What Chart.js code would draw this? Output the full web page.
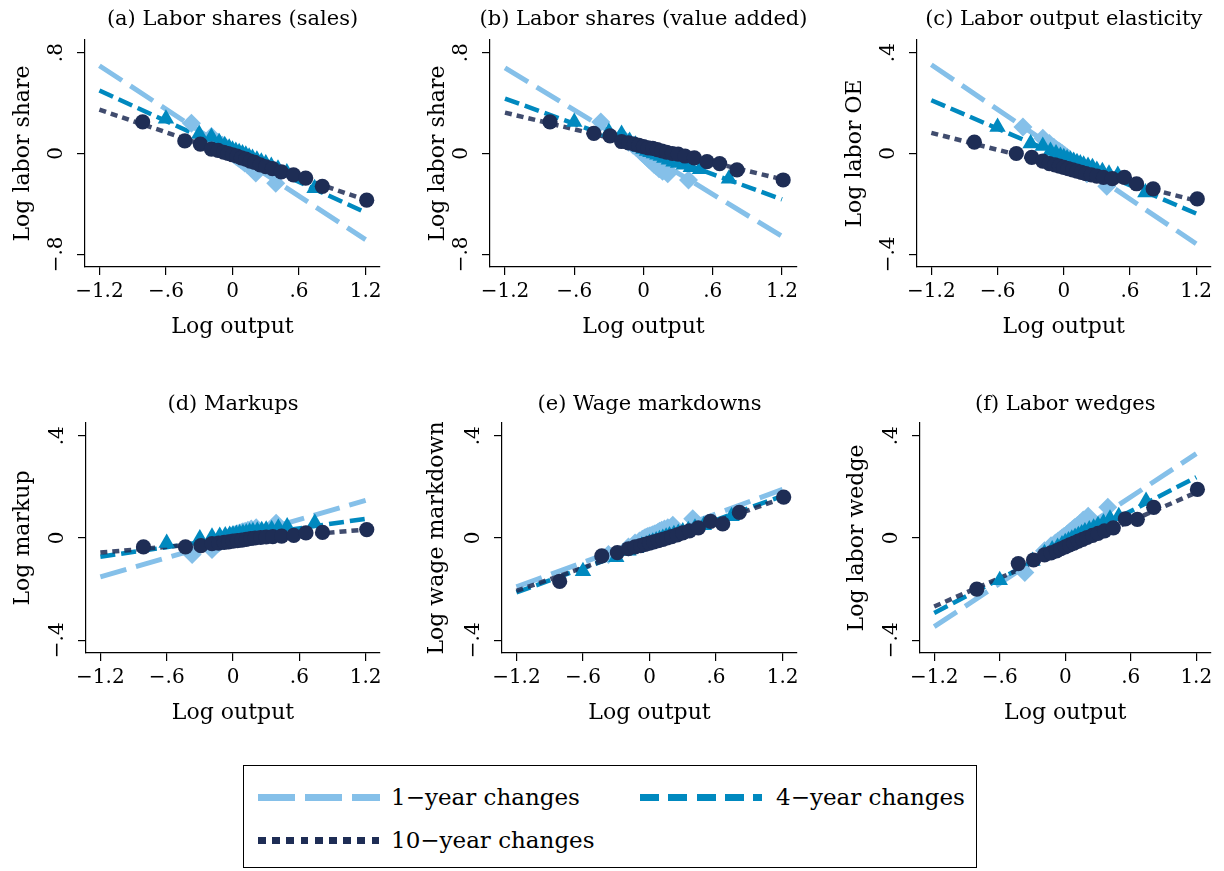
<!DOCTYPE html>
<html>
<head>
<meta charset="utf-8">
<script src="https://cdn.jsdelivr.net/npm/chart.js@4.4.1/dist/chart.umd.min.js"></script>
<style>
html, body { margin: 0; padding: 0; background: #fff; overflow: hidden; }
body { width: 1224px; height: 871px; position: relative; font-family: "DejaVu Serif", serif; }
canvas { position: absolute; }
#legend { position: absolute; left: 243px; top: 765px; width: 734px; height: 103px; box-sizing: border-box; border: 1.5px solid #000; }
.sample { position: absolute; height: 7px; }
.lab { position: absolute; font-size: 23px; line-height: 30px; color: #000; white-space: nowrap; }
</style>
</head>
<body>
<canvas id="pa"></canvas>
<canvas id="pb"></canvas>
<canvas id="pc"></canvas>
<canvas id="pd"></canvas>
<canvas id="pe"></canvas>
<canvas id="pf"></canvas>
<div id="legend">
  <div class="sample" style="left:14px;top:28px;width:122px;background:repeating-linear-gradient(90deg,#85C0E9 0 37px,transparent 37px 47px);"></div>
  <div class="lab" style="left:147px;top:16px;">1−year changes</div>
  <div class="sample" style="left:396px;top:28px;width:122px;background:repeating-linear-gradient(90deg,#0089BF 0 19px,transparent 19px 28.3px);"></div>
  <div class="lab" style="left:532px;top:16px;">4−year changes</div>
  <div class="sample" style="left:14px;top:71px;width:122px;background:repeating-linear-gradient(90deg,#1E2D55 0 7.7px,transparent 7.7px 14.2px);"></div>
  <div class="lab" style="left:147px;top:59px;">10−year changes</div>
</div>
<script>
// ---------- data ----------
const xTicks = [-1.2, -0.6, 0, 0.6, 1.2];
const yTicksWide = [-0.8, 0, 0.8];
const yTicksNarrow = [-0.4, 0, 0.4];
const fitX = [-1.2, 1.2];

// bin means of log output (x) per horizon
const x1y = [-0.37, -0.19, -0.13, -0.09, -0.065, -0.045, -0.03, -0.015, 0.0, 0.015, 0.03, 0.045, 0.06, 0.075, 0.09, 0.11, 0.135, 0.165, 0.21, 0.39];
const x4y = [-0.60, -0.30, -0.19, -0.12, -0.07, -0.03, 0.0, 0.03, 0.06, 0.09, 0.12, 0.15, 0.18, 0.22, 0.26, 0.30, 0.35, 0.41, 0.49, 0.74];
const x10y = [-0.81, -0.43, -0.29, -0.19, -0.13, -0.08, -0.04, 0.0, 0.04, 0.08, 0.12, 0.16, 0.20, 0.25, 0.30, 0.36, 0.44, 0.55, 0.66, 0.81, 1.21];

// (a) Labor shares (sales)
const a1 = [0.24, 0.135, 0.09, 0.065, 0.05, 0.035, 0.025, 0.01, 0.0, -0.01, -0.02, -0.03, -0.04, -0.05, -0.06, -0.075, -0.09, -0.11, -0.155, -0.235];
const a4 = [0.275, 0.155, 0.13, 0.09, 0.065, 0.045, 0.03, 0.02, 0.01, 0.0, -0.01, -0.025, -0.035, -0.05, -0.065, -0.08, -0.10, -0.12, -0.15, -0.275];
const a10 = [0.25, 0.10, 0.075, 0.035, 0.025, 0.01, 0.0, -0.01, -0.02, -0.035, -0.045, -0.06, -0.07, -0.09, -0.105, -0.12, -0.145, -0.17, -0.195, -0.26, -0.37];
const a1Fit = [0.696, -0.683];
const a4Fit = [0.499, -0.468];
const a10Fit = [0.347, -0.368];

// (b) Labor shares (value added)
const b1 = [0.25, 0.13, 0.09, 0.065, 0.05, 0.035, 0.02, 0.005, -0.005, -0.02, -0.03, -0.045, -0.055, -0.07, -0.085, -0.10, -0.12, -0.14, -0.16, -0.21];
const b4 = [0.25, 0.17, 0.155, 0.10, 0.07, 0.05, 0.035, 0.02, 0.01, 0.0, -0.01, -0.02, -0.035, -0.05, -0.065, -0.075, -0.09, -0.11, -0.125, -0.20];
const b10 = [0.25, 0.16, 0.14, 0.095, 0.085, 0.075, 0.065, 0.055, 0.045, 0.04, 0.03, 0.02, 0.01, 0.0, -0.005, -0.02, -0.035, -0.065, -0.08, -0.13, -0.21];
const b1Fit = [0.679, -0.657];
const b4Fit = [0.436, -0.364];
const b10Fit = [0.324, -0.204];

// (c) Labor output elasticity
const c1 = [0.105, 0.06, 0.04, 0.025, 0.015, 0.01, 0.005, 0.0, -0.005, -0.01, -0.015, -0.02, -0.03, -0.035, -0.04, -0.045, -0.055, -0.065, -0.08, -0.13];
const c4 = [0.105, 0.04, 0.03, 0.01, 0.0, -0.01, -0.015, -0.02, -0.025, -0.03, -0.035, -0.04, -0.045, -0.05, -0.055, -0.065, -0.07, -0.08, -0.085, -0.155];
const c10 = [0.045, 0.0, -0.015, -0.03, -0.04, -0.045, -0.05, -0.055, -0.06, -0.065, -0.07, -0.075, -0.08, -0.085, -0.09, -0.095, -0.10, -0.095, -0.12, -0.14, -0.18];
const c1Fit = [0.352, -0.358];
const c4Fit = [0.211, -0.238];
const c10Fit = [0.082, -0.187];

// (d) Markups
const d1 = [-0.065, -0.045, -0.02, -0.01, -0.005, 0.0, 0.005, 0.008, 0.01, 0.012, 0.015, 0.017, 0.02, 0.022, 0.024, 0.026, 0.03, 0.035, 0.04, 0.058];
const d4 = [-0.02, -0.002, 0.005, 0.008, 0.01, 0.012, 0.014, 0.016, 0.018, 0.02, 0.022, 0.024, 0.026, 0.028, 0.03, 0.032, 0.034, 0.04, 0.045, 0.06];
const d10 = [-0.035, -0.035, -0.03, -0.022, -0.02, -0.017, -0.015, -0.012, -0.01, -0.008, -0.005, -0.002, 0.0, 0.002, 0.004, 0.005, 0.007, 0.01, 0.02, 0.022, 0.033];
const d1Fit = [-0.152, 0.147];
const d4Fit = [-0.073, 0.075];
const d10Fit = [-0.057, 0.033];

// (e) Wage markdowns
const e1 = [-0.065, -0.035, -0.02, -0.012, -0.005, 0.0, 0.003, 0.006, 0.008, 0.01, 0.013, 0.016, 0.018, 0.022, 0.026, 0.03, 0.035, 0.04, 0.05, 0.075];
const e4 = [-0.13, -0.075, -0.05, -0.04, -0.03, -0.025, -0.02, -0.015, -0.01, -0.005, 0.0, 0.005, 0.01, 0.015, 0.02, 0.025, 0.03, 0.04, 0.05, 0.085];
const e10 = [-0.17, -0.07, -0.057, -0.042, -0.035, -0.03, -0.025, -0.02, -0.015, -0.01, -0.005, 0.0, 0.005, 0.012, 0.02, 0.028, 0.04, 0.065, 0.055, 0.10, 0.16];
const e1Fit = [-0.191, 0.19];
const e4Fit = [-0.213, 0.165];
const e10Fit = [-0.207, 0.155];

// (f) Labor wedges
const f1 = [-0.135, -0.05, -0.03, -0.02, -0.012, -0.006, 0.0, 0.005, 0.008, 0.014, 0.02, 0.025, 0.03, 0.036, 0.042, 0.048, 0.057, 0.07, 0.085, 0.12];
const f4 = [-0.165, -0.09, -0.06, -0.045, -0.035, -0.025, -0.017, -0.01, -0.003, 0.004, 0.011, 0.018, 0.025, 0.033, 0.04, 0.05, 0.06, 0.075, 0.085, 0.145];
const f10 = [-0.20, -0.10, -0.086, -0.066, -0.058, -0.05, -0.042, -0.035, -0.027, -0.02, -0.012, -0.005, 0.002, 0.01, 0.018, 0.028, 0.04, 0.075, 0.073, 0.12, 0.19];
const f1Fit = [-0.347, 0.33];
const f4Fit = [-0.293, 0.238];
const f10Fit = [-0.268, 0.178];

// ---------- styling ----------
const FONT = '"DejaVu Serif", serif';
const C1 = '#85C0E9', C4 = '#0089BF', C10 = '#1E2D55';
const C10LINE = 'rgba(30,45,85,0.85)';

function fmt(v) {
  const r = Math.round(v * 10) / 10;
  if (r === 0) return '0';
  let s = Math.abs(r).toString();
  if (s.startsWith('0.')) s = s.slice(1);
  return (r < 0 ? '\u2212' : '') + s;
}
const pts = (xs, ys) => xs.map((x, i) => ({ x: x, y: ys[i] }));

const panelTitle = {
  id: 'panelTitle',
  afterDraw(chart, args, opts) {
    const { ctx, chartArea } = chart;
    ctx.save();
    ctx.font = '21px ' + FONT;
    ctx.fillStyle = '#000';
    ctx.textAlign = 'center';
    ctx.textBaseline = 'middle';
    ctx.fillText(opts.text, (chartArea.left + chartArea.right) / 2, chartArea.top - opts.gap);
    ctx.restore();
  }
};

function makePanel(id, p) {
  const cv = document.getElementById(id);
  cv.width = p.w; cv.height = p.h;
  cv.style.left = p.left + 'px'; cv.style.top = p.top + 'px';
  const lineDs = (fit, color, width, dash, order) => ({
    type: 'line', data: pts(fitX, fit), borderColor: color, borderWidth: width,
    borderDash: dash, pointRadius: 0, fill: false, order: order, showLine: true
  });
  const scatDs = (xs, ys, color, style, r, order) => ({
    type: 'scatter', data: pts(xs, ys), backgroundColor: color, borderColor: color,
    borderWidth: 0, pointStyle: style, pointRadius: r, order: order
  });
  new Chart(cv, {
    type: 'scatter',
    data: {
      datasets: [
        scatDs(x10y, p.s10, C10, 'circle', 7.6, 1),
        scatDs(x4y, p.s4, C4, 'triangle', 9.5, 2),
        scatDs(x1y, p.s1, C1, 'rectRot', 9.5, 3),
        lineDs(p.f10, C10LINE, 4.5, [7, 5], 4),
        lineDs(p.f4, C4, 4.5, [15, 6], 5),
        lineDs(p.f1, C1, 5, [27, 10], 6)
      ]
    },
    options: {
      responsive: false, animation: false, events: [],
      layout: { padding: { left: 0, top: p.padT, right: p.padR, bottom: 0 } },
      plugins: { legend: { display: false }, tooltip: { enabled: false }, panelTitle: { text: p.title, gap: p.gap } },
      scales: {
        x: {
          type: 'linear', min: -1.33, max: 1.33,
          afterBuildTicks: s => { s.ticks = xTicks.map(v => ({ value: v })); },
          afterFit: s => { s.height = 78; },
          ticks: { callback: v => fmt(v), font: { family: FONT, size: 20 }, color: '#000', padding: 5, maxRotation: 0, autoSkip: false },
          grid: { display: true, drawOnChartArea: false, drawTicks: true, tickLength: 8, color: '#000', lineWidth: 1.2 },
          border: { display: true, color: '#000', width: 1.2 },
          title: { display: true, text: 'Log output', font: { family: FONT, size: 22 }, color: '#000', padding: { top: 0, bottom: 5 } }
        },
        y: {
          type: 'linear', min: -p.ymax, max: p.ymax,
          afterBuildTicks: s => { s.ticks = p.yTicks.map(v => ({ value: v })); },
          afterFit: s => { s.width = p.yW; },
          ticks: { callback: v => fmt(v), font: { family: FONT, size: 20 }, color: '#000', padding: 2, minRotation: 90, maxRotation: 90, crossAlign: 'center', autoSkip: false },
          grid: { display: true, drawOnChartArea: false, drawTicks: true, tickLength: 8, color: '#000', lineWidth: 1.2 },
          border: { display: true, color: '#000', width: 1.2 },
          title: { display: true, text: p.ytitle, font: { family: FONT, size: 22 }, color: '#000', padding: { top: p.ytPad, bottom: 0 } }
        }
      }
    },
    plugins: [panelTitle]
  });
}

makePanel('pa', { left: 0, top: 0, w: 400, h: 345, yW: 85, padR: 20, padT: 40, gap: 20, ytPad: 9.8, ymax: 0.9, yTicks: yTicksWide,
  title: '(a) Labor shares (sales)', ytitle: 'Log labor share', s1: a1, s4: a4, s10: a10, f1: a1Fit, f4: a4Fit, f10: a10Fit });
makePanel('pb', { left: 410, top: 0, w: 400, h: 345, yW: 80, padR: 13, padT: 40, gap: 20, ytPad: 14.8, ymax: 0.9, yTicks: yTicksWide,
  title: '(b) Labor shares (value added)', ytitle: 'Log labor share', s1: b1, s4: b4, s10: b10, f1: b1Fit, f4: b4Fit, f10: b10Fit });
makePanel('pc', { left: 815, top: 0, w: 405, h: 345, yW: 102, padR: 7, padT: 40, gap: 20, ytPad: 26.8, ymax: 0.45, yTicks: yTicksNarrow,
  title: '(c) Labor output elasticity', ytitle: 'Log labor OE', s1: c1, s4: c4, s10: c10, f1: c1Fit, f4: c4Fit, f10: c10Fit });
makePanel('pd', { left: 0, top: 380, w: 400, h: 351, yW: 86, padR: 20, padT: 43, gap: 18, ytPad: 9.8, ymax: 0.45, yTicks: yTicksNarrow,
  title: '(d) Markups', ytitle: 'Log markup', s1: d1, s4: d4, s10: d10, f1: d1Fit, f4: d4Fit, f10: d10Fit });
makePanel('pe', { left: 410, top: 380, w: 400, h: 351, yW: 92, padR: 13, padT: 43, gap: 18, ytPad: 13.8, ymax: 0.45, yTicks: yTicksNarrow,
  title: '(e) Wage markdowns', ytitle: 'Log wage markdown', s1: e1, s4: e4, s10: e10, f1: e1Fit, f4: e4Fit, f10: e10Fit });
makePanel('pf', { left: 815, top: 380, w: 405, h: 351, yW: 105, padR: 6, padT: 43, gap: 18, ytPad: 28.8, ymax: 0.45, yTicks: yTicksNarrow,
  title: '(f) Labor wedges', ytitle: 'Log labor wedge', s1: f1, s4: f4, s10: f10, f1: f1Fit, f4: f4Fit, f10: f10Fit });
</script>
</body>
</html>
